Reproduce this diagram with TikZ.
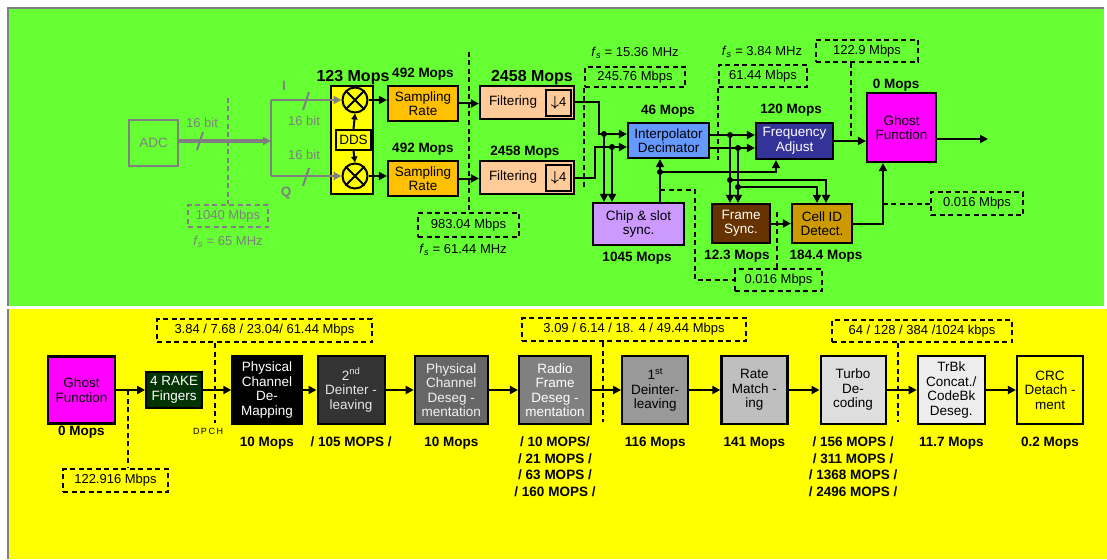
\documentclass[tikz,border=0pt]{standalone}
\usepackage{fontspec}
\setmainfont{Liberation Sans}
\usetikzlibrary{positioning, arrows.meta, calc}
\definecolor{topgreen}{RGB}{102,255,51}
\definecolor{botyellow}{RGB}{255,255,0}
\definecolor{adcgray}{RGB}{128,128,128}
\definecolor{mixyellow}{RGB}{255,255,0}
\definecolor{samporange}{RGB}{255,192,0}
\definecolor{filtpeach}{RGB}{255,204,153}
\definecolor{intblue}{RGB}{102,153,255}
\definecolor{fadjblue}{RGB}{51,51,153}
\definecolor{ghostmag}{RGB}{255,0,255}
\definecolor{chiplilac}{RGB}{204,153,255}
\definecolor{syncbrown}{RGB}{102,51,0}
\definecolor{cellgold}{RGB}{204,153,0}
\definecolor{rakegreen}{RGB}{0,51,0}
\newcommand{\boxfont}{\fontsize{13.5}{14.5}\selectfont}
\newcommand{\opsfont}{\bfseries\fontsize{13.5}{16.5}\selectfont}
\newcommand{\bigopsfont}{\bfseries\fontsize{16}{18}\selectfont}
\newcommand{\ratefont}{\fontsize{13}{14}\selectfont}
\newcommand{\fsamp}{\textit{f}\textsubscript{\textit{s}}}

\begin{document}
\begin{tikzpicture}[x=1pt, y=-1pt,
    box/.style={rectangle, draw=black, line width=2.2pt, align=center,
        font=\boxfont, inner sep=0pt},
    gbox/.style={box, draw=adcgray, text=adcgray, line width=2pt},
    stage/.style={box, minimum width=67pt, minimum height=68pt},
    ops/.style={font=\opsfont, align=center, inner sep=1pt},
    bigops/.style={font=\bigopsfont, inner sep=1pt},
    rate/.style={draw, dashed, dash pattern=on 5pt off 3.5pt, line width=2pt,
        font=\ratefont, inner sep=0pt},
    fs/.style={font=\ratefont},
    arr/.style={-{Triangle[length=8pt,width=8pt]}, line width=2pt},
    garr/.style={arr, draw=adcgray, fill=adcgray, line width=2.2pt},
    dline/.style={dashed, dash pattern=on 5pt off 3.5pt, line width=2pt},
    dot/.style={circle, fill=black, inner sep=0pt, minimum size=6pt},
    mix/.style={circle, draw=black, line width=2pt, minimum size=25pt, inner sep=0pt}]
  \useasboundingbox (0,0) rectangle (1107,559);
  % Paneles de fondo
  \fill[topgreen] (8,8) rectangle (1104,306);
  \draw[adcgray, line width=1.5pt] (8,306) -- (8,8) -- (1104,8);
  \fill[botyellow] (8,309) rectangle (1107,559);
  \draw[adcgray, line width=1.5pt] (8,309) -- (8,559);

  % ---------- Panel superior ----------
  % ADC (en gris)
  \node[gbox, minimum width=49pt, minimum height=46pt] (adc) at (153.5,143) {ADC};
  \coordinate (fork) at (271,141);
  % Mezclador con DDS
  \node[box, fill=mixyellow, minimum width=42pt, minimum height=108pt] (mixbox) at (352,140) {};
  \node[mix] (mixI) at (355,100) {};
  \node[mix] (mixQ) at (355,176) {};
  \draw[line width=2pt] (mixI.north west) -- (mixI.south east) (mixI.north east) -- (mixI.south west);
  \draw[line width=2pt] (mixQ.north west) -- (mixQ.south east) (mixQ.north east) -- (mixQ.south west);
  \node[box, fill=mixyellow, line width=2pt, minimum width=35pt, minimum height=20pt] (dds) at (353.5,140) {DDS};
  \draw[arr, -{Triangle[length=6pt,width=6pt]}] (dds.north) -- (mixI.south);
  \draw[arr, -{Triangle[length=6pt,width=6pt]}] (dds.south) -- (mixQ.north);
  % Ramas I/Q
  \draw[garr, line width=3.5pt] (adc.east |- fork) -- (fork);
  \draw[adcgray, line width=2.2pt] (fork |- mixI) -- (fork |- mixQ);
  \draw[garr] (fork |- mixI) -- (mixI.west);
  \draw[garr] (fork |- mixQ) -- (mixQ.west);
  \foreach \sx/\sy in {200/141, 306/101, 306/177}
    \draw[adcgray, line width=2pt] (\sx+3,\sy-9) -- (\sx-3,\sy+9);
  \node[fs, text=adcgray] (bitA) at (202,123) {16 bit};
  \node[fs, text=adcgray] (bitI) at (304,121) {16 bit};
  \node[fs, text=adcgray] (bitQ) at (304,155) {16 bit};
  \node[font=\bfseries\boxfont, text=adcgray] (lblI) at (284,86) {I};
  \node[font=\bfseries\boxfont, text=adcgray] (lblQ) at (286,193) {Q};
  \node[rate, draw=adcgray, text=adcgray, minimum width=80pt, minimum height=22pt] (r1040) at (228,216) {1040 Mbps};
  \node[fs, text=adcgray] (fs65) at (228,242) {\fsamp\ = 65 MHz};
  \draw[dline, adcgray] (r1040.north |- 0,98) -- (r1040.north);

  % Muestreo y filtrado
  \node[box, fill=samporange, minimum width=70pt, minimum height=35pt] (sampI) at (423,103.5) {Sampling\\Rate};
  \node[box, fill=samporange, minimum width=70pt, minimum height=35pt] (sampQ) at (423,178.5) {Sampling\\Rate};
  \node[box, fill=filtpeach, minimum width=94pt, minimum height=33pt] (filtI) at (527,102.5) {Filtering\hspace{28pt}};
  \node[box, fill=filtpeach, minimum width=94pt, minimum height=33pt] (filtQ) at (527,177.5) {Filtering\hspace{28pt}};
  \node[box, fill=filtpeach, line width=1.8pt, minimum width=25pt, minimum height=26pt, font=\ratefont] (decI) at (558.5,103) {{\boldmath\Large$\downarrow$}4};
  \node[box, fill=filtpeach, line width=1.8pt, minimum width=25pt, minimum height=26pt, font=\ratefont] (decQ) at (558.5,178) {{\boldmath\Large$\downarrow$}4};
  \draw[arr] (mixI.east) -- (mixI.east -| sampI.west);
  \draw[arr] (mixQ.east) -- (mixQ.east -| sampQ.west);
  \draw[arr] (sampI.east) -- (sampI.east -| filtI.west);
  \draw[arr] (sampQ.east) -- (sampQ.east -| filtQ.west);
  \node[rate, minimum width=101pt, minimum height=24pt] (r983) at (468.5,225) {983.04 Mbps};
  \node[fs] (fs6144) at (463,250) {\fsamp\ = 61.44 MHz};
  \draw[dline] (r983.north |- 0,52) -- (r983.north);

  % Interpolador, sincronismo y ajuste
  \node[box, fill=intblue, minimum width=81pt, minimum height=35pt] (intd) at (668.5,140.5) {Interpolator\\Decimator};
  \node[box, fill=chiplilac, minimum width=91pt, minimum height=42pt] (chip) at (638.5,224) {Chip \& slot\\sync.};
  \node[box, fill=fadjblue, text=white, minimum width=77pt, minimum height=36pt] (fadj) at (794.5,141) {Frequency\\Adjust};
  \node[box, fill=syncbrown, text=white, minimum width=58pt, minimum height=39pt] (fsync) at (741,223.5) {Frame\\Sync.};
  \node[box, fill=cellgold, minimum width=60pt, minimum height=39pt] (cell) at (822,223.5) {Cell ID\\Detect.};
  \node[box, fill=ghostmag, minimum width=69pt, minimum height=69pt] (ghost) at (901.5,127.5) {Ghost\\Function};
  \coordinate (gout) at (988,139);

  % Uniones
  \node[dot] (jI) at (604,134) {};
  \node[dot] (jQ) at (612,147) {};
  \node[dot] (jC) at (660,172) {};
  \coordinate (jF) at (776,172);
  \node[dot] (k1) at (730,135) {};
  \node[dot] (k2) at (738,148) {};
  \node[dot] (k3) at (730,180) {};
  \node[dot] (k4) at (738,187) {};

  \draw[arr] (filtI.east) -| (599,134) -- (intd.west |- jI);
  \draw[arr] (filtQ.east) -| (595,147) -- (intd.west |- jQ);
  \draw[arr] (jI.center) -- (jI |- chip.north);
  \draw[arr] (jQ.center) -- (jQ |- chip.north);
  \draw[arr] (chip.north -| jC) -- (intd.south -| jC);
  \draw[arr] (jC.center) -- (jF) -- (jF |- fadj.south);
  \draw[arr] (intd.east |- k1) -- (fadj.west |- k1);
  \draw[arr] (intd.east |- k2) -- (fadj.west |- k2);
  \draw[arr] (k1.center) -- (k1 |- fsync.north);
  \draw[arr] (k2.center) -- (k2 |- fsync.north);
  \draw[arr] (k3.center) -| ([xshift=4pt]cell.north);
  \draw[arr] (k4.center) -| ([xshift=-5pt]cell.north);
  \draw[arr] (fsync) -- (cell);
  \draw[arr] (cell.east) -| ([xshift=-18.5pt]ghost.south);
  \draw[arr] (fadj.east) -- (fadj.east -| ghost.west);
  \draw[arr] (ghost.east |- gout) -- (gout);

  % Tasas (cajas discontinuas)
  \node[rate, minimum width=100pt, minimum height=20pt] (r24576) at (635,77) {245.76 Mbps};
  \node[fs] (fs1536) at (635,53) {\fsamp\ = 15.36 MHz};
  \draw[dline] (r24576.south west) -- (r24576.south west |- 0,188);
  \node[rate, minimum width=88pt, minimum height=22pt] (r6144) at (763,76) {61.44 Mbps};
  \node[fs] (fs384) at (762,52) {\fsamp\ = 3.84 MHz};
  \draw[dline] (r6144.south west) -- (r6144.south west |- 0,160);
  \node[rate, minimum width=102pt, minimum height=22pt] (r1229) at (867,51) {122.9 Mbps};
  \draw[dline] (r1229.south -| 851,0) -- (fadj.east -| 851,0);
  \node[rate, minimum width=92pt, minimum height=23pt] (r016a) at (977,203.5) {0.016 Mbps};
  \draw[dline] (r016a.west) -- (r016a.west -| 883,0);
  \node[rate, minimum width=87pt, minimum height=22pt] (r016b) at (778.5,280) {0.016 Mbps};
  \draw[dline] (r016b.north -| 777,0) -- (777,210);
  \draw[dline] (jC |- 0,190) -- (695,190) |- (r016b.west);

  % Operaciones
  \node[bigops] (opsMix) at (353,78) {123 Mops};
  \node[ops] (opsSampI) at (423,74) {492 Mops};
  \node[ops] (opsSampQ) at (423,149) {492 Mops};
  \node[bigops] (opsFiltI) at (532,78) {2458 Mops};
  \node[ops] (opsFiltQ) at (525,152) {2458 Mops};
  \node[ops] (opsInt) at (668,111) {46 Mops};
  \node[ops] (opsChip) at (637,258) {1045 Mops};
  \node[ops] (opsFadj) at (791,110) {120 Mops};
  \node[ops] (opsSync) at (737,256) {12.3 Mops};
  \node[ops] (opsCell) at (826,256) {184.4 Mops};
  \node[ops] (opsGhost) at (896,85) {0 Mops};

  % ---------- Panel inferior ----------
  \node[stage, fill=ghostmag, minimum height=67pt] (ghostB) at (81.5,390) {Ghost\\Function};
  \node[stage, right=29pt of ghostB, fill=rakegreen, text=white, minimum width=56pt, minimum height=36pt] (rake) {4 RAKE\\Fingers};
  \node[stage, right=28pt of rake, fill=black, text=white, minimum width=69pt] (dmap) {Physical\\Channel\\De-\\Mapping};
  \node[stage, right=14pt of dmap, fill=black!80, text=black!10] (dint2) {2\textsuperscript{nd}\\Deinter -\\leaving};
  \node[stage, right=28pt of dint2, fill=black!60, text=black!5, minimum width=73pt] (pdes) {Physical\\Channel\\Deseg -\\mentation};
  \node[stage, right=29pt of pdes, fill=black!50, text=white, minimum width=72pt] (rfd) {Radio\\Frame\\Deseg -\\mentation};
  \node[stage, right=29pt of rfd, fill=black!40, minimum width=66pt] (dint1) {1\textsuperscript{st}\\Deinter-\\leaving};
  \node[stage, right=31pt of dint1, fill=black!25, minimum width=66pt] (rmat) {Rate\\Match -\\ing};
  \node[stage, right=31pt of rmat, fill=black!13, minimum width=65pt] (turbo) {Turbo\\De-\\coding};
  \node[stage, right=30pt of turbo, fill=black!7] (trbk) {TrBk\\Concat./\\CodeBk\\Deseg.};
  \node[stage, right=30pt of trbk, fill=botyellow, minimum width=66pt] (crc) {CRC\\Detach -\\ment};
  \foreach \a/\b in {ghostB/rake, rake/dmap, dmap/dint2, dint2/pdes, pdes/rfd,
                     rfd/dint1, dint1/rmat, rmat/turbo, turbo/trbk, trbk/crc}
    \draw[arr] (\a.east) -- (\b.west);

  % Tasas del panel inferior
  \node[rate, minimum width=105pt, minimum height=23pt] (r122916) at (115.5,480.5) {122.916 Mbps};
  \draw[dline] (ghostB.east -| 128,0) -- (r122916.north -| 128,0);
  \node[rate, minimum width=215pt, minimum height=23pt] (rDpch) at (264.5,330.5) {3.84 / 7.68 / 23.04/ 61.44 Mbps};
  \draw[dline] (rDpch.south -| 215,0) -- (215,423);
  \node[font=\fontsize{9}{10}\selectfont, inner sep=0pt] (dpch) at (208,431) {D\,P\,C\,H};
  \node[rate, minimum width=224pt, minimum height=23pt] (rRfd) at (634,329.5) {3.09 / 6.14 / 18. 4 / 49.44 Mbps};
  \draw[dline] (rRfd.south -| 603,0) -- (603,422);
  \node[rate, minimum width=180pt, minimum height=22pt] (rTurbo) at (922,331) {64 / 128 / 384 /1024 kbps};
  \draw[dline] (rTurbo.south -| 898,0) -- (898,422);

  % Operaciones del panel inferior
  \coordinate (labrow) at (0,436);
  \node[ops, anchor=north] (opsGhostB) at (ghostB |- 0,425) {0 Mops};
  \node[ops, anchor=north] (opsDmap) at (dmap |- labrow) {10 Mops};
  \node[ops, anchor=north] (opsDint2) at (dint2 |- labrow) {/ 105 MOPS /};
  \node[ops, anchor=north] (opsPdes) at (pdes |- labrow) {10 Mops};
  \node[ops, anchor=north] (opsRfd) at (rfd |- labrow) {/ 10 MOPS/\\/ 21 MOPS /\\/ 63 MOPS /\\/ 160 MOPS /};
  \node[ops, anchor=north] (opsDint1) at (dint1 |- labrow) {116 Mops};
  \node[ops, anchor=north] (opsRmat) at (rmat |- labrow) {141 Mops};
  \node[ops, anchor=north] (opsTurbo) at (turbo |- labrow) {/ 156 MOPS /\\/ 311 MOPS /\\/ 1368 MOPS /\\/ 2496 MOPS /};
  \node[ops, anchor=north] (opsTrbk) at (trbk |- labrow) {11.7 Mops};
  \node[ops, anchor=north] (opsCrc) at (crc |- labrow) {0.2 Mops};
\end{tikzpicture}
\end{document}
